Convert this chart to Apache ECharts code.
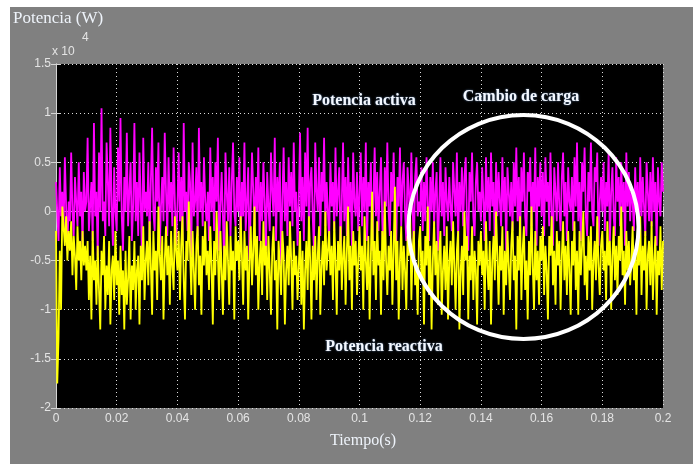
<!DOCTYPE html>
<html>
<head>
<meta charset="utf-8">
<script src="https://cdn.jsdelivr.net/npm/echarts@6/dist/echarts.min.js"></script>
<style>
  html, body { margin:0; padding:0; background:#ffffff; }
  #bg { position:absolute; left:10px; top:7px; width:683px; height:457px; background:#808080; }
  #chart { position:absolute; left:0; top:0; width:699px; height:464px; }
</style>
</head>
<body>
<div id="bg"></div>
<div id="chart"></div>
<script>
// Values in units of x10^4 W, sampled uniformly over 0..0.2 s
const xTicks = [0, 0.02, 0.04, 0.06, 0.08, 0.1, 0.12, 0.14, 0.16, 0.18, 0.2];
const yTicks = [-2, -1.5, -1, -0.5, 0, 0.5, 1, 1.5];

const potenciaActiva = [
  0.3,0.0,-0.3,0.45,-0.05,0.2,-0.2,0.55,0.05,-0.4,0.1,-0.1, 0.6,0.0,-0.25,0.35,0.1,-0.15,0.5,-0.05,0.2,-0.35,0.4,0.0,
  0.1,0.75,-0.2,0.05,0.3,-0.3,0.9,-0.05,0.2,-0.45,0.6,0.0, 1.05,-0.1,0.1,-0.25,0.7,0.3,-0.15,0.85,0.05,-0.35,0.45,0.0,
  -0.2,0.65,0.1,0.95,-0.05,-0.4,0.35,0.0,0.8,-0.15,0.2,0.5, -0.3,0.05,0.9,-0.1,0.3,-0.25,0.6,0.1,-0.5,0.75,0.0,0.2,
  -0.05,0.5,-0.3,0.3,0.85,0.0,-0.2,0.45,0.1,0.7,-0.4,0.05, 0.35,-0.1,0.8,0.2,-0.25,0.55,0.0,0.3,-0.15,0.65,0.1,-0.35,
  0.05,0.6,-0.1,0.35,-0.3,0.9,0.0,0.2,-0.2,0.5,0.3,-0.45, 0.7,-0.05,0.1,0.45,-0.25,0.85,0.0,0.3,-0.15,0.55,0.1,-0.1,
  0.2,-0.3,0.65,0.0,0.35,-0.2,0.5,0.1,0.75,-0.4,0.05,0.4, -0.05,-0.55,0.6,0.2,-0.1,0.45,-0.25,0.3,0.7,0.0,-0.15,0.35,
  0.0,0.55,-0.35,0.3,-0.05,0.7,-0.2,0.1,0.45,-0.5,0.05,0.6, 0.2,-0.15,0.35,0.0,0.65,-0.3,0.3,-0.1,0.5,0.1,-0.4,0.4,
  0.05,-0.2,0.6,0.2,-0.05,0.75,-0.3,0.35,0.0,0.5,-0.55,0.1, 0.65,-0.1,0.3,-0.25,0.55,0.05,0.4,-0.15,0.7,0.0,0.2,-0.35,
  0.1,0.8,-0.1,0.35,-0.3,0.6,0.05,0.85,-0.2,0.3,0.45,-0.05, -0.4,0.7,0.2,0.0,0.55,-0.25,0.4,0.1,0.75,-0.15,0.3,0.0,
  -0.3,0.5,0.05,0.3,-0.2,0.65,-0.05,0.2,0.45,-0.45,0.1,0.7, -0.1,0.35,-0.25,0.55,0.0,0.3,-0.35,0.6,0.1,-0.05,0.4,-0.2,
  0.2,0.6,-0.15,0.35,0.0,0.7,-0.3,0.3,0.05,0.5,-0.4,0.1, 0.65,-0.05,0.4,-0.2,0.2,0.55,-0.1,-0.5,0.45,0.05,0.7,0.0,
  -0.25,0.4,0.1,0.6,-0.05,-0.35,0.35,0.05,0.65,-0.15,0.3,0.5, 0.0,-0.3,0.45,0.2,-0.1,0.6,0.05,-0.4,0.35,0.55,-0.05,0.1,
  0.0,0.45,-0.2,0.3,-0.1,0.55,0.1,-0.3,0.35,0.0,0.5,-0.15, 0.2,0.4,-0.4,0.05,0.55,-0.05,0.3,-0.25,0.45,0.1,-0.1,0.35,
  0.05,-0.2,0.5,0.2,-0.05,0.6,-0.3,0.3,0.0,0.45,-0.15,0.35, 0.55,-0.1,-0.4,0.4,0.1,0.6,-0.05,-0.25,0.3,0.5,0.0,0.2,
  -0.1,0.45,0.1,-0.3,0.55,0.0,0.35,-0.2,0.6,0.05,0.3,-0.35, 0.5,-0.05,0.4,0.1,-0.15,0.55,0.0,0.35,-0.4,0.45,0.2,-0.05,
  0.3,-0.2,0.5,0.05,0.65,-0.1,0.35,-0.3,0.45,0.1,0.6,-0.05, -0.25,0.4,0.2,0.55,-0.15,0.3,0.0,0.65,-0.35,0.35,0.05,0.5,
  -0.05,0.4,-0.25,0.55,0.1,0.3,-0.15,0.6,0.0,-0.35,0.45,0.2, -0.1,0.5,0.05,-0.2,0.35,0.6,-0.05,0.3,-0.3,0.45,0.1,0.0,
  0.35,-0.2,0.55,0.05,0.7,-0.1,0.3,-0.3,0.5,0.2,0.65,-0.05, -0.25,0.4,0.1,0.7,0.0,-0.15,0.45,0.3,0.6,-0.35,0.1,0.35,
  0.0,0.5,-0.2,0.3,0.05,0.6,-0.3,0.2,0.45,-0.05,-0.25,0.55, 0.1,0.35,-0.15,0.5,0.0,0.3,-0.35,0.6,0.05,0.4,-0.1,0.2,
  0.1,-0.2,0.45,0.0,0.3,-0.3,0.55,-0.05,0.35,0.05,-0.25,0.5, 0.2,-0.1,0.4,-0.15,0.55,0.0,0.3,-0.35,0.45,0.1,-0.05,0.5,0.2
];

const potenciaReactiva = [
  -0.2,-1.75,-1.3,-0.4,-1.0,0.05,-0.15,-0.35,-0.05,-0.5,-0.2,-0.4, -0.1,-0.65,-0.25,-0.45,-0.8,-0.15,-0.5,-0.3,-0.7,-0.2,-0.55,-0.35,
  -0.6,-0.3,-0.9,-0.45,-1.1,-0.2,-0.7,-0.5,-0.95,-0.35,-0.8,-1.2, -0.4,-0.65,-0.25,-1.0,-0.55,-0.85,-0.3,-1.15,-0.6,-0.45,-0.9,-0.2,
  -0.75,-0.5,-1.05,-0.35,-0.85,-0.6,-1.2,-0.4,-0.95,-0.7,-0.25,-1.1, -0.55,-0.8,-0.3,-1.0,-0.6,-0.45,-1.15,-0.35,-0.7,-0.15,-0.9,-0.5,
  -0.3,-0.75,-0.1,-0.55,-1.05,-0.2,-0.6,-0.4,-0.9,0.05,-0.45,-0.7, -0.25,-1.1,-0.5,-0.15,-0.65,-0.35,-0.95,-0.2,-0.55,-0.8,-0.05,-0.4,
  -0.6,-0.2,-0.9,-0.35,-0.05,-0.7,-1.1,-0.3,-0.5,0.1,-0.4,-0.85, -0.2,-0.6,-1.0,-0.35,-0.15,-0.75,-0.45,-1.05,-0.25,-0.55,-0.1,-0.65,
  -0.4,-0.8,-0.15,-0.55,-1.15,-0.3,-0.65,0.0,-0.45,-0.9,-0.2,-0.6, -1.05,-0.35,-0.7,-0.1,-0.5,-0.95,-0.25,-0.6,-0.4,-1.1,-0.15,-0.5,
  -0.3,-0.7,-0.05,-0.45,-0.95,-0.2,-0.6,-0.35,-1.1,-0.5,-0.15,-0.75, -0.4,0.05,-0.65,-0.25,-1.0,-0.5,-0.3,-0.85,-0.1,-0.55,-0.35,-0.9,
  -0.25,-0.6,-1.05,-0.4,-0.15,-0.7,-0.5,-1.2,-0.3,-0.55,-0.85,-0.2, -0.45,-1.15,-0.6,-0.35,-0.75,-0.1,-0.5,-1.0,-0.3,-0.65,-0.45,-0.9,
  -0.55,-0.2,-0.95,-0.4,-1.2,-0.6,-0.3,-0.8,-0.05,-0.5,-1.1,-0.35, -0.7,-0.25,-0.9,-0.45,-0.15,-1.05,-0.55,-0.3,-0.75,0.0,-0.6,-0.4,
  -0.2,-0.65,-0.35,-0.9,-0.1,-0.5,-1.05,-0.3,-0.6,-0.15,-0.8,-0.45, -0.25,-0.95,-0.4,0.05,-0.7,-0.35,-1.0,-0.2,-0.55,-0.3,-0.85,-0.5,
  -0.15,-0.6,-0.35,-1.0,-0.05,-0.5,-0.8,-0.25,-1.1,-0.45,0.2,-0.65, -0.3,-0.9,-0.1,-0.55,-0.4,-1.05,-0.2,-0.7,0.1,-0.5,-0.85,-0.35,
  -0.6,-0.2,-0.95,-0.4,0.25,-0.7,-0.3,-1.1,-0.5,-0.15,-0.8,-0.35, -0.6,-1.0,-0.25,-0.45,0.05,-0.9,-0.4,-0.2,-0.75,-0.55,-1.05,-0.3,
  -0.15,-0.7,-0.4,-1.15,-0.25,-0.55,0.05,-0.85,-0.35,-1.2,-0.5,-0.1, -0.65,-0.3,-0.95,-0.45,-0.2,-1.05,-0.6,-0.35,-0.8,-0.15,-1.1,-0.5,
  -0.3,-0.75,-0.1,-0.55,-1.0,-0.4,-0.2,-1.2,-0.6,-0.35,-0.85,0.0, -0.5,-0.25,-1.1,-0.45,-0.7,-0.15,-0.9,-0.4,-0.6,-1.15,-0.3,-0.55,
  -0.2,-0.65,-0.4,-1.0,-0.1,-0.55,-0.8,-0.3,-1.15,-0.5,-0.25,-0.7, 0.0,-0.45,-0.95,-0.35,-0.6,-0.15,-1.05,-0.4,-0.75,-0.2,-0.55,-0.9,
  -0.35,-0.1,-0.7,-0.45,-1.2,-0.25,-0.6,-0.05,-0.9,-0.4,-0.15,-0.8, -0.5,-1.1,-0.3,-0.65,0.05,-0.55,-1.0,-0.2,-0.7,-0.4,-0.95,-0.25,
  -0.5,-0.15,-0.85,-0.35,-0.6,-1.1,-0.25,-0.45,-0.05,-0.75,-0.4,-0.95, -0.2,-0.55,-0.3,-1.0,-0.45,-0.1,-0.7,-0.35,-0.85,-0.2,-0.6,-1.05,
  -0.3,-0.55,-0.1,-0.8,-0.4,-1.05,-0.2,-0.65,-0.35,0.0,-0.75,-0.45, -0.9,-0.25,-0.6,-0.15,-1.0,-0.5,-0.3,-0.7,-0.05,-0.55,-0.85,-0.35,
  -0.2,-0.6,-0.4,-0.9,-0.1,-0.55,-0.3,-1.0,-0.45,-0.15,-0.7,-0.35, -0.85,-0.25,-0.5,0.05,-0.65,-0.4,-0.95,-0.2,-0.6,-0.3,-0.75,-0.5,
  -0.15,-0.7,-0.4,-1.05,-0.25,-0.55,-0.05,-0.85,-0.35,-0.6,-0.2,-1.0, -0.45,-0.3,-0.75,-0.1,-0.9,-0.5,-0.25,-1.05,-0.4,-0.65,-0.15,-0.8,-0.3
];

const T_END = 0.2;
function toPairs(arr) {
  const step = T_END / (arr.length - 1);
  return arr.map((v, i) => [i * step, v]);
}

const chart = echarts.init(document.getElementById('chart'), null, { renderer: 'canvas' });
const frame = '#d4d4d4';
const gridLine = { show: true, lineStyle: { color: '#dcdcdc', type: [1, 3], width: 1 } };
const fmt = v => String(parseFloat(v.toFixed(3)));

const option = {
  animation: false,
  backgroundColor: 'transparent',
  grid: { left: 56, top: 64, width: 607, height: 344, show: true, backgroundColor: '#000000', borderWidth: 0 },
  xAxis: [
    {
      type: 'value', min: xTicks[0], max: xTicks[xTicks.length - 1], interval: 0.02, position: 'bottom',
      axisLine: { show: true, lineStyle: { color: frame, width: 1 } },
      axisTick: { show: true, inside: true, length: 5, lineStyle: { color: frame } },
      axisLabel: { color: '#e4e4e4', fontFamily: 'Liberation Sans', fontSize: 12, margin: 5, formatter: fmt },
      splitLine: gridLine
    },
    {
      type: 'value', min: xTicks[0], max: xTicks[xTicks.length - 1], interval: 0.02, position: 'top',
      axisLine: { show: true, lineStyle: { color: frame, width: 1 } },
      axisTick: { show: true, inside: true, length: 5, lineStyle: { color: frame } },
      axisLabel: { show: false }, splitLine: { show: false }
    }
  ],
  yAxis: [
    {
      type: 'value', min: yTicks[0], max: yTicks[yTicks.length - 1], interval: 0.5, position: 'left',
      axisLine: { show: true, lineStyle: { color: frame, width: 1 } },
      axisTick: { show: true, inside: true, length: 5, lineStyle: { color: frame } },
      axisLabel: { color: '#e4e4e4', fontFamily: 'Liberation Sans', fontSize: 12, margin: 5, formatter: fmt },
      splitLine: gridLine
    },
    {
      type: 'value', min: yTicks[0], max: yTicks[yTicks.length - 1], interval: 0.5, position: 'right',
      axisLine: { show: true, lineStyle: { color: frame, width: 1 } },
      axisTick: { show: true, inside: true, length: 5, lineStyle: { color: frame } },
      axisLabel: { show: false }, splitLine: { show: false }
    }
  ],
  series: [
    {
      name: 'Potencia activa', type: 'line', xAxisIndex: 0, yAxisIndex: 0,
      data: toPairs(potenciaActiva), showSymbol: false, symbol: 'none', clip: true, z: 3,
      lineStyle: { color: '#ff00ff', width: 1.8 }
    },
    {
      name: 'Potencia reactiva', type: 'line', xAxisIndex: 0, yAxisIndex: 0,
      data: toPairs(potenciaReactiva), showSymbol: false, symbol: 'none', clip: true, z: 4,
      lineStyle: { color: '#ffff00', width: 1.8 }
    }
  ],
  graphic: [
    { type: 'text', left: 13, top: 10, z: 10, style: { text: 'Potencia (W)', fill: '#eef3fa', font: '17px "Liberation Serif"' } },
    { type: 'text', left: 52, top: 46, z: 10, style: { text: 'x 10', fill: '#e4e4e4', font: '12px "Liberation Sans"' } },
    { type: 'text', left: 82, top: 32, z: 10, style: { text: '4', fill: '#e4e4e4', font: '12px "Liberation Sans"' } },
    { type: 'text', x: 363, y: 441, z: 10, style: { text: 'Tiempo(s)', fill: '#eef3fa', font: '16px "Liberation Serif"', textAlign: 'center', textVerticalAlign: 'middle' } },
    { type: 'text', x: 364, y: 101, z: 20, style: { text: 'Potencia activa', fill: '#f4f8ff', font: 'bold 16px "Liberation Serif"', textAlign: 'center', textVerticalAlign: 'middle', textShadowColor: '#5d7ea8', textShadowBlur: 2 } },
    { type: 'text', x: 521, y: 97, z: 20, style: { text: 'Cambio de carga', fill: '#f4f8ff', font: 'bold 16px "Liberation Serif"', textAlign: 'center', textVerticalAlign: 'middle', textShadowColor: '#5d7ea8', textShadowBlur: 2 } },
    { type: 'text', x: 384, y: 347, z: 20, style: { text: 'Potencia reactiva', fill: '#f4f8ff', font: 'bold 16px "Liberation Serif"', textAlign: 'center', textVerticalAlign: 'middle', textShadowColor: '#5d7ea8', textShadowBlur: 2 } },
    { type: 'ellipse', z: 30, shape: { cx: 523.5, cy: 227, rx: 115, ry: 112 }, style: { fill: null, stroke: '#ffffff', lineWidth: 4 } }
  ]
};
chart.setOption(option);
</script>
</body>
</html>
